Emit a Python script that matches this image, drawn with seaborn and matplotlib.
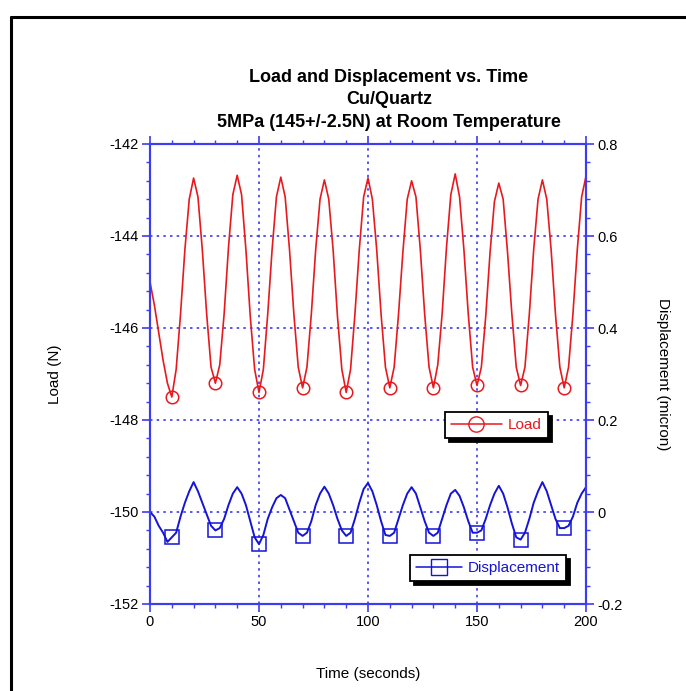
import numpy as np
import matplotlib
matplotlib.use("Agg")
import matplotlib.pyplot as plt
import seaborn as sns
from matplotlib.lines import Line2D
from matplotlib.ticker import MultipleLocator

sns.set_style("white")
plt.rcParams['font.family'] = ['Liberation Sans', 'DejaVu Sans']
plt.rcParams['axes.unicode_minus'] = False
plt.rcParams['text.color'] = 'black'
plt.rcParams['axes.labelcolor'] = 'black'

# time axis (seconds), sampled every 2 s
time_s = list(range(0, 201, 2))

# Load (N)
load_n = [
    -145.0, -145.5, -146.1, -146.7, -147.2, -147.5, -146.9, -145.7, -144.3, -143.2,
    -142.74, -143.15, -144.3, -145.7, -146.85, -147.2, -146.8, -145.7, -144.25, -143.1,
    -142.68, -143.1, -144.3, -145.75, -146.9, -147.4, -146.9, -145.7, -144.3, -143.15,
    -142.72, -143.15, -144.3, -145.7, -146.85, -147.3, -146.85, -145.7, -144.3, -143.2,
    -142.78, -143.2, -144.3, -145.75, -146.9, -147.4, -146.9, -145.7, -144.3, -143.15,
    -142.74, -143.2, -144.3, -145.7, -146.85, -147.3, -146.85, -145.7, -144.35, -143.2,
    -142.8, -143.15, -144.3, -145.7, -146.85, -147.3, -146.8, -145.7, -144.25, -143.1,
    -142.65, -143.15, -144.3, -145.7, -146.85, -147.25, -146.85, -145.75, -144.35, -143.25,
    -142.85, -143.2, -144.35, -145.7, -146.85, -147.25, -146.85, -145.7, -144.3, -143.2,
    -142.78, -143.2, -144.3, -145.7, -146.85, -147.3, -146.85, -145.7, -144.3, -143.15,
    -142.7,
]

# Displacement (micron)
disp_um = [
    0.0, -0.01, -0.03, -0.045, -0.065, -0.055, -0.045, -0.01, 0.02, 0.045,
    0.065, 0.045, 0.02, -0.005, -0.03, -0.04, -0.035, -0.015, 0.015, 0.04,
    0.054, 0.04, 0.015, -0.02, -0.055, -0.07, -0.05, -0.015, 0.01, 0.03,
    0.037, 0.03, 0.005, -0.02, -0.045, -0.052, -0.045, -0.02, 0.015, 0.04,
    0.055, 0.04, 0.015, -0.015, -0.04, -0.052, -0.045, -0.015, 0.02, 0.05,
    0.063, 0.045, 0.015, -0.02, -0.05, -0.052, -0.045, -0.015, 0.015, 0.04,
    0.054, 0.04, 0.01, -0.02, -0.045, -0.052, -0.045, -0.015, 0.015, 0.04,
    0.048, 0.035, 0.01, -0.02, -0.045, -0.045, -0.04, -0.015, 0.015, 0.04,
    0.057, 0.04, 0.01, -0.025, -0.055, -0.06, -0.045, -0.015, 0.02, 0.045,
    0.065, 0.045, 0.015, -0.015, -0.035, -0.035, -0.03, -0.01, 0.02, 0.04,
    0.054,
]

LOAD_C = '#e8191e'
DISP_C = '#1414d8'
AX_C = '#3c3cf0'

fig = plt.figure(figsize=(6.86, 6.91), dpi=100)
ax = fig.add_axes([150 / 686, 1 - 604 / 691, 436 / 686, 460 / 691])
ax2 = ax.twinx()

# markers sit on the minima (t = 10, 30, ..., 190)
mk = slice(5, None, 10)
sns.lineplot(x=time_s, y=load_n, ax=ax, color=LOAD_C, lw=1.2, marker='o',
             markersize=9, markerfacecolor='none', markeredgecolor=LOAD_C,
             markeredgewidth=1.1, markevery=mk, estimator=None, sort=False)
sns.lineplot(x=time_s, y=disp_um, ax=ax2, color=DISP_C, lw=1.4, marker='s',
             markersize=10, markerfacecolor='none', markeredgecolor=DISP_C,
             markeredgewidth=1.1, markevery=mk, estimator=None, sort=False)

ax.set_xlim(0, 200)
ax.set_ylim(-152, -142)
ax2.set_ylim(-0.2, 0.8)

ax.xaxis.set_major_locator(MultipleLocator(50))
ax.xaxis.set_minor_locator(MultipleLocator(10))
ax.yaxis.set_major_locator(MultipleLocator(2))
ax.yaxis.set_minor_locator(MultipleLocator(0.4))
ax2.yaxis.set_minor_locator(MultipleLocator(0.04))
ax2.set_yticks([-0.2, 0, 0.2, 0.4, 0.6, 0.8])
ax2.set_yticklabels(['-0.2', '0', '0.2', '0.4', '0.6', '0.8'])

for a in (ax, ax2):
    for s in a.spines.values():
        s.set_color(AX_C)
        s.set_linewidth(1.5)
        s.set_visible(True)
    a.tick_params(which='major', direction='out', length=6, width=1.2,
                  color=AX_C, labelsize=10.5, labelcolor='black', pad=2)
    a.tick_params(which='minor', direction='out', length=3, width=1.0, color=AX_C)
ax.tick_params(which='both', top=True, bottom=True, left=True, right=False)
ax2.tick_params(which='both', right=True, left=False)

ax.grid(True, which='major', color=AX_C, linestyle=(0, (1.5, 2.5)), lw=1.2)
ax2.grid(False)

ax.set_xlabel('Time (seconds)', fontsize=11, labelpad=27)
ax.set_ylabel('Load (N)', fontsize=11, labelpad=34)
ax2.set_ylabel('Displacement (micron)', fontsize=11, rotation=270, labelpad=34)

fig.text(389 / 686, 1 - 100 / 691,
         'Load and Displacement vs. Time\nCu/Quartz\n5MPa (145+/-2.5N) at Room Temperature',
         ha='center', va='center', fontsize=13, fontweight='bold',
         linespacing=1.45, color='black')

shadow = {'ox': 3, 'oy': -3, 'facecolor': 'black', 'edgecolor': 'black', 'alpha': 1}
h_load = Line2D([], [], color=LOAD_C, lw=1.1, marker='o', ms=11,
                mfc='none', mec=LOAD_C, label='Load')
h_disp = Line2D([], [], color=DISP_C, lw=1.1, marker='s', ms=11,
                mfc='none', mec=DISP_C, label='Displacement')
leg1 = ax2.legend(handles=[h_load], loc='upper left',
                  bbox_to_anchor=(445 / 686, 1 - 412 / 691),
                  bbox_transform=fig.transFigure, borderaxespad=0,
                  fontsize=11, labelcolor='linecolor', handlelength=3.3,
                  handletextpad=0.4, borderpad=0.4, fancybox=False,
                  shadow=shadow, framealpha=1, edgecolor='black')
leg1.get_frame().set_linewidth(1.3)
ax2.add_artist(leg1)
leg2 = ax2.legend(handles=[h_disp], loc='upper left',
                  bbox_to_anchor=(410 / 686, 1 - 555 / 691),
                  bbox_transform=fig.transFigure, borderaxespad=0,
                  fontsize=11, labelcolor='linecolor', handlelength=3.0,
                  handletextpad=0.4, borderpad=0.4, fancybox=False,
                  shadow=shadow, framealpha=1, edgecolor='black')
leg2.get_frame().set_linewidth(1.3)

# page frame (left and top edges)
fig.add_artist(Line2D([11 / 686, 11 / 686], [0, 1 - 17 / 691],
                      transform=fig.transFigure, color='black', lw=2.2))
fig.add_artist(Line2D([11 / 686, 1], [1 - 17 / 691, 1 - 17 / 691],
                      transform=fig.transFigure, color='black', lw=2.2))

fig.savefig('out.png', dpi=100)
